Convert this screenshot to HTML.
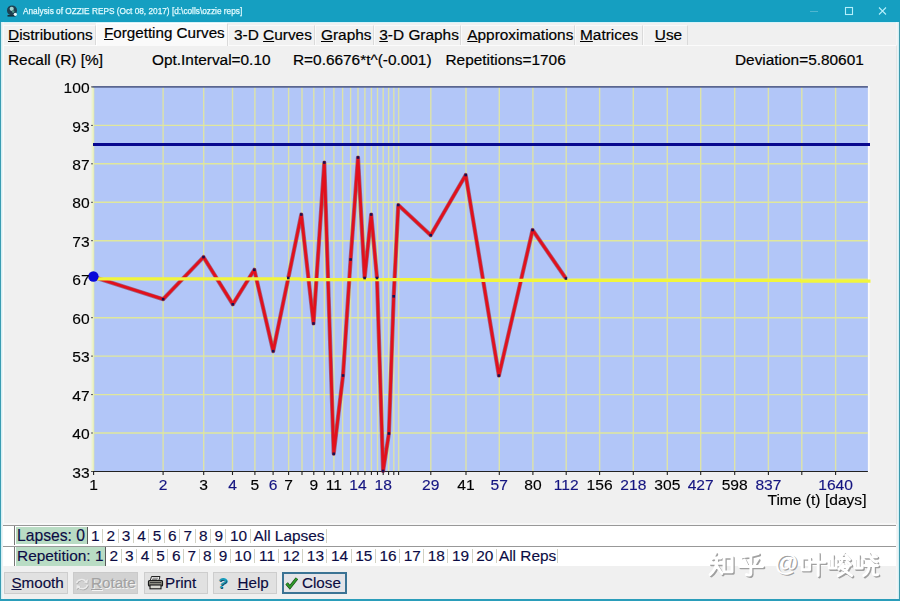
<!DOCTYPE html>
<html><head><meta charset="utf-8"><title>Analysis</title>
<style>
html,body{margin:0;padding:0;}
body{width:900px;height:601px;overflow:hidden;background:#f0f0f0;font-family:"Liberation Sans",sans-serif;position:relative;}
.abs{position:absolute;}
#titlebar{left:0;top:0;width:900px;height:22.2px;background:#159fc1;}
#title{left:22.7px;top:5.1px;height:13px;line-height:13px;font-size:9.2px;color:#e4fbff;-webkit-text-stroke:0.25px #e4fbff;white-space:pre;transform-origin:0 50%;transform:scaleX(0.9);}
#bl{left:0;top:22px;width:1.3px;height:579px;background:#3a9cb2;box-shadow:1.2px 0 0 #cdf1f7,2.6px 0 0 #f8f8f8;}
#br{left:898.7px;top:22px;width:1.3px;height:579px;background:#3f9aac;box-shadow:-1.2px 0 0 #cdf1f7,-2.6px 0 0 #f8f8f8;}
#bb{left:0;top:598.8px;width:900px;height:2px;background:#2a9dba;}
.tab{-webkit-text-stroke:0.2px #000;top:24.5px;height:20.5px;background:#f1f1f1;border:1px solid #fafafa;border-right-color:#dadada;border-bottom:none;box-sizing:border-box;font-size:15.4px;line-height:17.6px;color:#000;white-space:pre;text-align:center;}
.tab.sel{top:22.5px;height:23.5px;font-size:15.2px;background:#fafafa;border-color:#fff;border-right-color:#dadada;line-height:18px;}
u{text-decoration:underline;text-decoration-thickness:1px;text-underline-offset:0.8px;}
#panel{left:3px;top:44.8px;width:894px;height:479px;border:1px solid #fbfbfb;border-right-color:#e4e4e4;border-bottom:none;box-sizing:border-box;background:#f0f0f0;}
.info{top:50.5px;-webkit-text-stroke:0.2px #000;height:18px;line-height:18px;font-size:15.4px;color:#000;white-space:pre;}
.yl{-webkit-text-stroke:0.15px #000;transform:scaleY(0.93);transform-origin:50% 52%;position:absolute;left:30px;width:59.6px;text-align:right;height:19px;line-height:19px;font-size:15.6px;color:#000;}
.xl{-webkit-text-stroke:0.15px;transform:scaleY(0.93);transform-origin:50% 52%;position:absolute;top:475.2px;width:60px;text-align:center;height:19px;line-height:19px;font-size:15.6px;white-space:pre;}
.k{color:#000;}.b{color:#141480;}
#timel{-webkit-text-stroke:0.15px #000;transform:scaleY(0.94);transform-origin:50% 52%;left:700px;width:166.5px;top:490px;text-align:right;height:19px;line-height:19px;font-size:15.6px;color:#000;white-space:pre;}
.strip{left:3px;width:893px;height:20px;background:#fff;border-top:1px solid #989898;box-sizing:border-box;}
.stab{position:absolute;top:0px;height:19px;line-height:18px;font-size:15.4px;color:#0c0c44;-webkit-text-stroke:0.15px #0c0c44;white-space:pre;text-align:center;box-sizing:border-box;}
.stab::after{content:"";position:absolute;right:0;top:2.5px;width:1px;height:14px;background:#d2d2c4;}
.stab.sel{background:#b9dcc4;height:19.4px;border-right:1px solid #5a5a5a;}
.stab.sel::after{display:none;}
.btn{-webkit-text-stroke:0.15px;top:571.8px;height:22.4px;background:#e1e1e1;border:1px solid #cdcdcd;box-sizing:border-box;font-size:15.2px;line-height:20.4px;color:#0c0c40;white-space:pre;}
</style></head><body>
<div id="titlebar" class="abs"></div>
<svg class="abs" style="left:6px;top:4px" width="14" height="14" viewBox="0 0 14 14"><circle cx="6" cy="6.4" r="5" fill="#1d3f50"/><path d="M1.500 11.800h8" stroke="#14303c" stroke-width="1.600"/><circle cx="5.700" cy="4.800" r="2.100" fill="#9fd2cf"/><circle cx="7.200" cy="7.600" r="1.300" fill="#4f9488"/><circle cx="9.300" cy="10.300" r="1.600" fill="#eef8fa"/></svg>
<div id="title" class="abs">Analysis of OZZIE REPS (Oct 08, 2017) [d:\colls\ozzie reps]</div>
<svg class="abs" style="left:800px;top:0" width="100" height="22" viewBox="0 0 100 22"><path d="M10 11.5h8" stroke="#4fb6d0" stroke-width="1"/><rect x="45.5" y="7.5" width="7" height="7" fill="none" stroke="#b4effb" stroke-width="1.1"/><path d="M79 7.5l7 7M86 7.5l-7 7" stroke="#b4effb" stroke-width="1.1"/></svg>
<div class="abs" style="left:0;top:22px;width:900px;height:1.3px;background:#d6f3f9"></div>
<div id="bl" class="abs"></div><div id="br" class="abs"></div><div id="bb" class="abs"></div>
<div id="panel" class="abs"></div>
<div class="abs tab" style="left:3px;width:92.5px;text-align:left;padding-left:4px"><u>D</u>istributions</div>
<div class="abs tab sel" style="left:96px;width:132px;text-align:left;padding-left:7px"><u>F</u>orgetting Curves</div>
<div class="abs tab" style="left:228px;width:87px;text-align:left;padding-left:5px">3-D <u>C</u>urves</div>
<div class="abs tab" style="left:315px;width:58.5px;text-align:left;padding-left:5px"><u>G</u>raphs</div>
<div class="abs tab" style="left:373.5px;width:87.5px;text-align:left;padding-left:4.800000000000011px"><u>3</u>-D Graphs</div>
<div class="abs tab" style="left:461px;width:114px;text-align:left;padding-left:5.300000000000011px"><u>A</u>pproximations</div>
<div class="abs tab" style="left:575px;width:67.5px;text-align:left;padding-left:4px"><u>M</u>atrices</div>
<div class="abs tab" style="left:642.5px;width:45.0px;text-align:left;padding-left:11.299999999999955px"><u>U</u>se</div>
<div class="abs info" style="left:8px">Recall (R) [%]</div>
<div class="abs info" style="left:152px">Opt.Interval=0.10</div>
<div class="abs info" style="left:293px">R=0.6676*t^(-0.001)</div>
<div class="abs info" style="left:445.5px">Repetitions=1706</div>
<div class="abs info" style="left:735px">Deviation=5.80601</div>
<svg id="chart" width="900" height="601" viewBox="0 0 900 601" style="position:absolute;left:0;top:0">
<rect x="93.0" y="86.9" width="774.9" height="384.6" fill="#b2c6f8"/>
<path d="M93.6 86.9V471.5M163.1 86.9V471.5M203.7 86.9V471.5M232.5 86.9V471.5M254.9 86.9V471.5M273.1 86.9V471.5M288.6 86.9V471.5M302.0 86.9V471.5M313.8 86.9V471.5M324.3 86.9V471.5M333.9 86.9V471.5M342.6 86.9V471.5M350.6 86.9V471.5M358.0 86.9V471.5M364.9 86.9V471.5M371.4 86.9V471.5M377.5 86.9V471.5M383.2 86.9V471.5M388.6 86.9V471.5M393.8 86.9V471.5M398.6 86.9V471.5M430.8 86.9V471.5M466.0 86.9V471.5M499.3 86.9V471.5M532.9 86.9V471.5M566.2 86.9V471.5M599.6 86.9V471.5M633.3 86.9V471.5M667.3 86.9V471.5M700.7 86.9V471.5M734.7 86.9V471.5M768.4 86.9V471.5M801.8 86.9V471.5M835.6 86.9V471.5" stroke="#dde3a8" stroke-width="1.4" fill="none"/>
<path d="M93.0 125.4H867.9M93.0 163.8H867.9M93.0 202.3H867.9M93.0 240.7H867.9M93.0 279.2H867.9M93.0 317.7H867.9M93.0 356.1H867.9M93.0 394.6H867.9M93.0 433.0H867.9" stroke="#e0e79c" stroke-width="1.4" fill="none"/>
<path d="M868.8 86.10000000000001V472.1" stroke="#fafafa" stroke-width="1.7"/>
<path d="M92.6 86.9V471.5" stroke="#ecf3cc" stroke-width="2"/>
<path d="M92.5 86.9H867.9" stroke="#5a6690" stroke-width="1.6"/>
<path d="M92.5 471.5H867.9" stroke="#222" stroke-width="1.2"/>
<path d="M93.6 471.5v3.5M163.1 471.5v3.5M203.7 471.5v3.5M232.5 471.5v3.5M254.9 471.5v3.5M273.1 471.5v3.5M288.6 471.5v3.5M302.0 471.5v3.5M313.8 471.5v3.5M324.3 471.5v3.5M333.9 471.5v3.5M342.6 471.5v3.5M350.6 471.5v3.5M358.0 471.5v3.5M364.9 471.5v3.5M371.4 471.5v3.5M377.5 471.5v3.5M383.2 471.5v3.5M388.6 471.5v3.5M393.8 471.5v3.5M398.6 471.5v3.5M430.8 471.5v3.5M466.0 471.5v3.5M499.3 471.5v3.5M532.9 471.5v3.5M566.2 471.5v3.5M599.6 471.5v3.5M633.3 471.5v3.5M667.3 471.5v3.5M700.7 471.5v3.5M734.7 471.5v3.5M768.4 471.5v3.5M801.8 471.5v3.5M835.6 471.5v3.5" stroke="#222" stroke-width="1.1"/>
<path d="M91.0 86.9h2M91.0 125.4h2M91.0 163.8h2M91.0 202.3h2M91.0 240.7h2M91.0 279.2h2M91.0 317.7h2M91.0 356.1h2M91.0 394.6h2M91.0 433.0h2M91.0 471.5h2" stroke="#555" stroke-width="1"/>
<path d="M93.0 144.6H870" stroke="#08088e" stroke-width="3"/>
<path d="M93.6 277.0L163.1 299.2L203.5 257.1L232.8 304.3L254.3 269.8L273.2 351.2L288.3 278.0L301.3 214.5L313.5 323.5L324.3 162.5L333.7 453.8L343.0 375.5L350.6 259.5L358.0 157.5L364.6 278.0L371.2 214.5L377.0 278.0L383.1 471.0L388.9 433.5L393.7 296.3L398.3 205.0L430.7 235.2L465.7 175.0L498.9 375.6L532.6 230.0L565.9 278.5" stroke="#8a1828" stroke-width="4.2" fill="none" stroke-linejoin="round" opacity="0.55"/>
<path d="M93.6 277.0L163.1 299.2L203.5 257.1L232.8 304.3L254.3 269.8L273.2 351.2L288.3 278.0L301.3 214.5L313.5 323.5L324.3 162.5L333.7 453.8L343.0 375.5L350.6 259.5L358.0 157.5L364.6 278.0L371.2 214.5L377.0 278.0L383.1 471.0L388.9 433.5L393.7 296.3L398.3 205.0L430.7 235.2L465.7 175.0L498.9 375.6L532.6 230.0L565.9 278.5" stroke="#e2101c" stroke-width="2.8" fill="none" stroke-linejoin="round"/>
<path d="M93.0 278.9H300L301 279.6H431L432 280.3H800L801 281.2H870.5" stroke="#f1f53c" stroke-width="3.3" fill="none"/>
<rect x="161.8" y="297.9" width="2.6" height="2.6" fill="#1a1050"/>
<rect x="202.2" y="255.8" width="2.6" height="2.6" fill="#1a1050"/>
<rect x="231.5" y="303.0" width="2.6" height="2.6" fill="#1a1050"/>
<rect x="253.0" y="268.5" width="2.6" height="2.6" fill="#1a1050"/>
<rect x="271.9" y="349.9" width="2.6" height="2.6" fill="#1a1050"/>
<rect x="287.0" y="276.7" width="2.6" height="2.6" fill="#1a1050"/>
<rect x="300.0" y="213.2" width="2.6" height="2.6" fill="#1a1050"/>
<rect x="312.2" y="322.2" width="2.6" height="2.6" fill="#1a1050"/>
<rect x="323.0" y="161.2" width="2.6" height="2.6" fill="#1a1050"/>
<rect x="332.4" y="452.5" width="2.6" height="2.6" fill="#1a1050"/>
<rect x="341.7" y="374.2" width="2.6" height="2.6" fill="#1a1050"/>
<rect x="349.3" y="258.2" width="2.6" height="2.6" fill="#1a1050"/>
<rect x="356.7" y="156.2" width="2.6" height="2.6" fill="#1a1050"/>
<rect x="363.3" y="276.7" width="2.6" height="2.6" fill="#1a1050"/>
<rect x="369.9" y="213.2" width="2.6" height="2.6" fill="#1a1050"/>
<rect x="375.7" y="276.7" width="2.6" height="2.6" fill="#1a1050"/>
<rect x="381.8" y="469.7" width="2.6" height="2.6" fill="#1a1050"/>
<rect x="387.6" y="432.2" width="2.6" height="2.6" fill="#1a1050"/>
<rect x="392.4" y="295.0" width="2.6" height="2.6" fill="#1a1050"/>
<rect x="397.0" y="203.7" width="2.6" height="2.6" fill="#1a1050"/>
<rect x="429.4" y="233.9" width="2.6" height="2.6" fill="#1a1050"/>
<rect x="464.4" y="173.7" width="2.6" height="2.6" fill="#1a1050"/>
<rect x="497.6" y="374.3" width="2.6" height="2.6" fill="#1a1050"/>
<rect x="531.3" y="228.7" width="2.6" height="2.6" fill="#1a1050"/>
<rect x="564.6" y="277.2" width="2.6" height="2.6" fill="#1a1050"/>
<circle cx="93.4" cy="276.5" r="5.2" fill="#0808d8"/>
</svg>
<div class="yl" style="top:78.0px">100</div>
<div class="yl" style="top:116.5px">93</div>
<div class="yl" style="top:154.9px">87</div>
<div class="yl" style="top:193.4px">80</div>
<div class="yl" style="top:231.8px">73</div>
<div class="yl" style="top:270.3px">67</div>
<div class="yl" style="top:308.8px">60</div>
<div class="yl" style="top:347.2px">53</div>
<div class="yl" style="top:385.7px">47</div>
<div class="yl" style="top:424.1px">40</div>
<div class="yl" style="top:462.6px">33</div>
<div class="xl k" style="left:63.6px">1</div>
<div class="xl b" style="left:133.1px">2</div>
<div class="xl k" style="left:173.7px">3</div>
<div class="xl b" style="left:202.5px">4</div>
<div class="xl k" style="left:224.9px">5</div>
<div class="xl b" style="left:243.1px">6</div>
<div class="xl k" style="left:258.6px">7</div>
<div class="xl k" style="left:283.8px">9</div>
<div class="xl k" style="left:303.9px">11</div>
<div class="xl b" style="left:328.0px">14</div>
<div class="xl b" style="left:353.2px">18</div>
<div class="xl b" style="left:400.8px">29</div>
<div class="xl k" style="left:436.0px">41</div>
<div class="xl b" style="left:469.3px">57</div>
<div class="xl k" style="left:502.9px">80</div>
<div class="xl b" style="left:536.2px">112</div>
<div class="xl k" style="left:569.6px">156</div>
<div class="xl b" style="left:603.3px">218</div>
<div class="xl k" style="left:637.3px">305</div>
<div class="xl b" style="left:670.7px">427</div>
<div class="xl k" style="left:704.7px">598</div>
<div class="xl b" style="left:738.4px">837</div>
<div class="xl b" style="left:805.6px">1640</div>
<div id="timel" class="abs">Time (t) [days]</div>
<div class="abs" style="left:3px;top:522.6px;width:893px;height:2.6px;background:#f7f7f7"></div>
<div class="abs strip" style="top:525.0px;height:20.6px">
<div style="position:absolute;left:10.8px;top:0;width:1px;height:19px;background:#777"></div>
<div class="stab sel" style="left:12.5px;top:0.5px;width:72.0px;font-size:15.7px;height:17.8px">Lapses: 0</div>
<div class="stab" style="left:84.5px;top:0.5px;width:15.5px">1</div>
<div class="stab" style="left:100.0px;top:0.5px;width:15.5px">2</div>
<div class="stab" style="left:115.4px;top:0.5px;width:15.4px">3</div>
<div class="stab" style="left:130.8px;top:0.5px;width:15.4px">4</div>
<div class="stab" style="left:146.3px;top:0.5px;width:15.4px">5</div>
<div class="stab" style="left:161.7px;top:0.5px;width:15.4px">6</div>
<div class="stab" style="left:177.2px;top:0.5px;width:15.4px">7</div>
<div class="stab" style="left:192.6px;top:0.5px;width:15.4px">8</div>
<div class="stab" style="left:208.1px;top:0.5px;width:15.4px">9</div>
<div class="stab" style="left:223.5px;top:0.5px;width:24.2px">10</div>
<div class="stab" style="left:247.7px;top:0.5px;width:76.6px">All Lapses</div>
</div>
<div class="abs strip" style="top:545.5px;height:20.6px">
<div style="position:absolute;left:10.8px;top:0;width:1px;height:19px;background:#777"></div>
<div class="stab sel" style="left:12.5px;top:0px;width:90.5px">Repetition: 1</div>
<div class="stab" style="left:103.0px;top:0px;width:15.6px">2</div>
<div class="stab" style="left:118.6px;top:0px;width:15.6px">3</div>
<div class="stab" style="left:134.2px;top:0px;width:15.6px">4</div>
<div class="stab" style="left:149.8px;top:0px;width:15.6px">5</div>
<div class="stab" style="left:165.4px;top:0px;width:15.6px">6</div>
<div class="stab" style="left:181.0px;top:0px;width:15.6px">7</div>
<div class="stab" style="left:196.6px;top:0px;width:15.6px">8</div>
<div class="stab" style="left:212.2px;top:0px;width:15.6px">9</div>
<div class="stab" style="left:227.8px;top:0px;width:24.2px">10</div>
<div class="stab" style="left:252.0px;top:0px;width:24.2px">11</div>
<div class="stab" style="left:276.2px;top:0px;width:24.2px">12</div>
<div class="stab" style="left:300.3px;top:0px;width:24.2px">13</div>
<div class="stab" style="left:324.5px;top:0px;width:24.2px">14</div>
<div class="stab" style="left:348.7px;top:0px;width:24.2px">15</div>
<div class="stab" style="left:372.9px;top:0px;width:24.2px">16</div>
<div class="stab" style="left:397.1px;top:0px;width:24.2px">17</div>
<div class="stab" style="left:421.2px;top:0px;width:24.2px">18</div>
<div class="stab" style="left:445.4px;top:0px;width:24.2px">19</div>
<div class="stab" style="left:469.6px;top:0px;width:24.2px">20</div>
<div class="stab" style="left:493.8px;top:0px;width:61.5px">All Reps</div>
</div>
<div class="abs btn" style="left:4.4px;width:64px;padding-left:6px"><u>S</u>mooth</div>
<div class="abs btn" style="left:73px;width:65px;padding-left:17px;background:#d2d2d2;border-color:#cacaca;color:#a2a2a2;text-shadow:1px 1px 0 #f4f4f4"><u>R</u>otate</div>
<svg class="abs" style="left:74.5px;top:576.5px" width="15" height="15" viewBox="0 0 15 15"><g fill="none" stroke="#a9a9a9" stroke-width="1.500" transform="translate(0.700,0.700)"><path d="M1.600 6.200a5 4.300 0 0 1 9.200-1.600"/><path d="M12.400 8a5 4.300 0 0 1-9.200 1.800"/></g><path d="M12.800 2.200l-0.300 4.200l-3.800-1.200zM1.400 12.200l0.300-4.200l3.800 1.200z" fill="#a9a9a9" transform="translate(0.700,0.700)"/><g fill="none" stroke="#ececec" stroke-width="1.500"><path d="M1.600 6.200a5 4.300 0 0 1 9.200-1.600"/><path d="M12.400 8a5 4.300 0 0 1-9.200 1.800"/></g><path d="M12.800 2.200l-0.300 4.200l-3.800-1.200zM1.400 12.200l0.300-4.200l3.800 1.200z" fill="#ececec"/></svg>
<div class="abs btn" style="left:144px;width:63.5px;padding-left:20px">Print</div>
<svg class="abs" style="left:147px;top:575px" width="17" height="16" viewBox="0 0 17 16"><path d="M4.500 1.500h8.500l-1.200 4h-8.500z" fill="#f4f4f4" stroke="#222" stroke-width="1"/><path d="M5.500 3.200h5.500M5 4.600h5.500" stroke="#555" stroke-width="0.800"/><rect x="1.500" y="5.500" width="14" height="5.500" rx="1" fill="#8a8a80" stroke="#1a1a1a" stroke-width="1.200"/><rect x="3" y="10" width="11" height="3.800" fill="#d8d8d0" stroke="#1a1a1a" stroke-width="1.100"/><path d="M3 7.500h11" stroke="#333" stroke-width="0.900"/></svg>
<div class="abs btn" style="left:213px;width:64px;padding-left:23.5px"><u>H</u>elp</div>
<div class="abs" style="left:217.5px;top:573.3px;width:12px;height:19px;line-height:19px;font-size:15.5px;font-weight:bold;font-style:italic;color:#1a9cba;text-shadow:0.7px 0.7px 0 #134e6a">?</div>
<div class="abs btn" style="left:282px;width:64.500px;padding-left:18px;border:2px solid #3b7394;line-height:18px;background:#e4e4e8">Close</div>
<svg class="abs" style="left:284.5px;top:576px" width="13.5" height="13.5" viewBox="0 0 15 15"><path d="M1.800 8.200l3.600 4.300l7.800-9.800" fill="none" stroke="#1a4a18" stroke-width="3.600"/><path d="M1.800 8.200l3.600 4.300l7.800-9.800" fill="none" stroke="#2f9a2a" stroke-width="2.100"/></svg>
<svg class="abs" style="left:0;top:0;pointer-events:none" width="900" height="601" viewBox="0 0 900 601">
<g fill="none" stroke="#909090" stroke-opacity="0.85" stroke-width="2.700" stroke-linecap="round" stroke-linejoin="round">
<path transform="translate(709.8,552.4) scale(1.070)" d="M6.500 2L3.500 7M4.500 6.500H11.500M1.500 11.500H12.500M7.500 6.500V11.500Q6.500 18 1.500 22M7.500 13.500L12.500 21M14.500 5.500H22V19.500H14.500Z"/>
<path transform="translate(739.3,552.4) scale(1.070)" d="M19 2.500Q12 4.500 4 5.500M6 8.500L8 12.500M18.500 7.500L15.500 12.500M1.500 14.500H23M12 5V21Q12 23.500 8 22"/>
<path transform="translate(801.3,552.4) scale(1.070)" d="M2 6.500H9V17.500H2ZM11 10.500H23.500M17 2V23"/>
<path transform="translate(827.8,552.4) scale(1.070)" d="M5.500 4V16M2.500 8.500V16H9V8.500M16 2L12.500 7H20.500M18 4L21.500 8M14.500 9.500L11.500 13M19 9.500L22.500 13M15.500 12.500L11.500 17M14.500 14.500H20.500Q18 20 11 23M14.500 16.500L23.500 23"/>
<path transform="translate(853.8,552.4) scale(1.070)" d="M5.500 4V16M2.500 8.500V16H9V8.500M11.500 5.500H22.500M15 2Q17 8.500 22.500 10.500M19.500 3L21.500 4.500M11.500 13.500H23.500M15.500 13.500Q15.500 20 10.500 23M19.500 13.500V21Q19.500 23 23.500 22"/>
</g>
<text x="776.3" y="571.9" font-family="Liberation Sans, sans-serif" font-weight="bold" font-size="23.500" fill="#909090" fill-opacity="0.85">@</text>
<g fill="none" stroke="#ffffff" stroke-opacity="1" stroke-width="2.700" stroke-linecap="round" stroke-linejoin="round">
<path transform="translate(708.5,551) scale(1.070)" d="M6.500 2L3.500 7M4.500 6.500H11.500M1.500 11.500H12.500M7.500 6.500V11.500Q6.500 18 1.500 22M7.500 13.500L12.500 21M14.500 5.500H22V19.500H14.500Z"/>
<path transform="translate(738,551) scale(1.070)" d="M19 2.500Q12 4.500 4 5.500M6 8.500L8 12.500M18.500 7.500L15.500 12.500M1.500 14.500H23M12 5V21Q12 23.500 8 22"/>
<path transform="translate(800,551) scale(1.070)" d="M2 6.500H9V17.500H2ZM11 10.500H23.500M17 2V23"/>
<path transform="translate(826.5,551) scale(1.070)" d="M5.500 4V16M2.500 8.500V16H9V8.500M16 2L12.500 7H20.500M18 4L21.500 8M14.500 9.500L11.500 13M19 9.500L22.500 13M15.500 12.500L11.500 17M14.500 14.500H20.500Q18 20 11 23M14.500 16.500L23.500 23"/>
<path transform="translate(852.5,551) scale(1.070)" d="M5.500 4V16M2.500 8.500V16H9V8.500M11.500 5.500H22.500M15 2Q17 8.500 22.500 10.500M19.500 3L21.500 4.500M11.500 13.500H23.500M15.500 13.500Q15.500 20 10.500 23M19.500 13.500V21Q19.500 23 23.500 22"/>
</g>
<text x="775" y="570.5" font-family="Liberation Sans, sans-serif" font-weight="bold" font-size="23.500" fill="#ffffff" fill-opacity="1">@</text>
</svg>
</body></html>
